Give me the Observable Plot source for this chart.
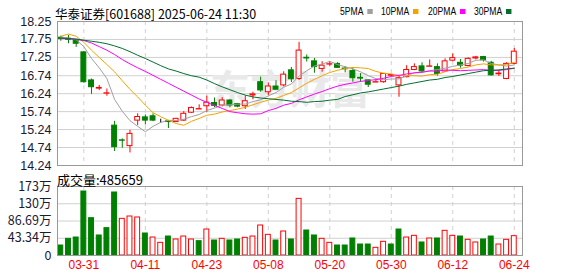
<!DOCTYPE html>
<html><head><meta charset="utf-8">
<script src="https://cdn.jsdelivr.net/npm/d3@7"></script>
<script src="https://cdn.jsdelivr.net/npm/@observablehq/plot@0.6"></script>
<style>
body{margin:0;background:#fff;}
#wrap{position:relative;width:578px;height:276px;overflow:hidden;background:#fff;}
.abs{position:absolute;white-space:nowrap;line-height:1;}
#title{left:55px;top:4px;font:12.5px "Noto Sans CJK SC",sans-serif;color:#000;}
#vlabel{left:57px;top:170px;font:13px "Noto Sans CJK SC",sans-serif;color:#000;}
.lg{position:absolute;top:5px;font:11px "Liberation Sans",sans-serif;color:#000;transform-origin:0 0;transform:scaleX(0.78);}
.lg span{display:inline-block;width:7px;height:5px;margin-left:5px;vertical-align:1px;}
</style></head><body>
<div id="wrap">
  <div id="vol" class="abs" style="left:0;top:170px"></div>
  <div id="main" class="abs" style="left:0;top:0"></div>
  <div id="title" class="abs">华泰证券[601688] 2025-06-24 11:30</div>
  <div id="legend"></div>
  <div id="vlabel" class="abs">成交量:485659</div>
</div>
<script>
// ---- data ----
const dates = ["03-26","03-27","03-28","03-31","04-01","04-02","04-03","04-07","04-08","04-09",
"04-10","04-11","04-14","04-15","04-16","04-17","04-18","04-21","04-22","04-23",
"04-24","04-25","04-28","04-29","04-30","05-06","05-07","05-08","05-09","05-12",
"05-13","05-14","05-15","05-16","05-19","05-20","05-21","05-22","05-23","05-26",
"05-27","05-28","05-29","05-30","06-03","06-04","06-05","06-06","06-09","06-10",
"06-11","06-12","06-13","06-16","06-17","06-18","06-19","06-20","06-23","06-24"];
const open = [17.80,17.77,17.74,17.39,16.61,16.38,16.24,15.35,14.94,14.78,
15.49,15.58,15.61,15.49,15.47,15.45,15.49,15.71,15.80,15.89,
15.98,15.91,16.05,15.95,15.89,16.19,16.56,16.28,16.44,16.47,
16.89,16.65,17.24,17.14,16.93,17.05,17.07,16.94,16.87,16.68,
16.61,16.55,16.56,16.74,16.47,16.70,16.90,17.00,16.99,16.98,
16.86,17.16,17.10,17.01,17.22,17.26,17.10,16.78,16.65,17.07];
const high = [17.84,17.86,17.75,17.41,16.65,16.47,16.37,15.47,14.98,15.22,
15.68,15.65,15.68,15.53,15.48,15.55,15.74,15.87,15.93,16.17,
16.12,16.13,16.07,15.97,16.18,16.28,16.70,16.54,16.60,16.85,
16.97,17.67,17.32,17.22,17.13,17.14,17.10,16.99,16.97,16.80,
16.62,16.63,16.80,16.78,16.75,17.02,17.07,17.10,17.18,17.07,
17.21,17.35,17.19,17.24,17.28,17.28,17.14,16.89,17.10,17.50];
const low = [17.70,17.63,17.53,16.53,16.22,16.33,16.17,14.63,14.72,14.59,
15.35,15.37,15.46,15.41,15.27,15.44,15.47,15.69,15.80,15.72,
15.85,15.87,15.85,15.85,15.80,16.07,16.28,16.19,16.35,16.43,
16.55,16.61,17.12,16.81,16.84,16.99,16.95,16.82,16.56,16.56,
16.41,16.55,16.53,16.71,16.14,16.68,16.88,16.83,16.99,16.73,
16.83,17.13,16.95,16.99,17.18,17.12,16.73,16.72,16.63,17.05];
const close = [17.76,17.74,17.63,16.56,16.42,16.40,16.25,14.75,14.93,15.12,
15.59,15.49,15.49,15.49,15.45,15.54,15.68,15.84,15.81,15.99,
15.90,16.05,15.91,15.88,16.03,16.22,16.33,16.44,16.35,16.77,
16.64,17.44,17.22,16.98,17.02,17.06,16.96,16.92,16.67,16.66,
16.49,16.56,16.79,16.76,16.67,16.90,16.98,16.86,17.00,16.79,
17.14,17.23,17.02,17.21,17.25,17.17,16.75,16.80,17.07,17.41];
const prevClose = 17.85;
const ma5 = [17.81,17.79,17.74,17.55,17.22,16.96,16.66,16.08,15.75,15.49,
15.33,15.18,15.33,15.44,15.50,15.49,15.53,15.60,15.66,15.77,
15.84,15.92,15.93,15.95,15.95,16.02,16.07,16.18,16.27,16.42,
16.51,16.73,16.88,17.01,17.06,17.14,17.05,16.99,16.93,16.85,
16.74,16.66,16.63,16.65,16.65,16.74,16.82,16.83,16.88,16.91,
16.95,17.00,17.04,17.08,17.17,17.18,17.08,17.04,17.01,17.04];
const ma10 = [17.84,17.90,17.84,17.67,17.45,17.25,17.05,16.85,16.60,16.36,
16.15,15.92,15.71,15.60,15.50,15.41,15.36,15.47,15.55,15.64,
15.67,15.73,15.77,15.81,15.86,15.93,16.00,16.06,16.11,16.19,
16.27,16.40,16.53,16.64,16.74,16.83,16.89,16.94,16.97,16.96,
16.94,16.86,16.81,16.79,16.75,16.74,16.74,16.73,16.77,16.78,
16.85,16.91,16.94,16.98,17.04,17.07,17.04,17.04,17.05,17.11];
const ma20 = [17.78,17.77,17.75,17.72,17.65,17.55,17.45,17.33,17.19,17.07,
16.96,16.86,16.75,16.64,16.53,16.42,16.31,16.20,16.09,16.00,
15.91,15.83,15.74,15.71,15.68,15.67,15.68,15.77,15.83,15.92,
15.97,16.07,16.15,16.23,16.30,16.38,16.45,16.50,16.54,16.58,
16.61,16.63,16.67,16.72,16.75,16.79,16.82,16.84,16.87,16.87,
16.90,16.89,16.88,16.89,16.90,16.91,16.89,16.89,16.91,16.95];
const ma30 = [17.79,17.78,17.76,17.73,17.70,17.67,17.63,17.57,17.50,17.41,
17.31,17.22,17.12,17.02,16.93,16.87,16.80,16.74,16.70,16.62,
16.52,16.43,16.35,16.27,16.20,16.15,16.12,16.10,16.08,16.06,
16.03,16.02,16.00,16.02,16.03,16.06,16.08,16.16,16.21,16.26,
16.29,16.33,16.37,16.41,16.45,16.50,16.54,16.58,16.62,16.64,
16.69,16.72,16.76,16.80,16.84,16.88,16.89,16.90,16.93,16.95];
// volume in 万
const volume = [25.1,41.9,45.2,160.8,93.8,50.3,68.7,158.3,92.1,98.0,
95.5,55.3,45.2,31.8,47.7,40.2,47.7,40.2,36.0,65.3,
37.7,41.9,37.7,40.2,44.4,47.7,75.4,51.9,37.7,60.3,
40.2,142.3,62.8,50.3,41.9,31.8,25.1,25.1,42.7,27.6,
27.6,19.3,34.4,27.6,65.3,45.2,49.4,32.7,42.7,42.7,
62.0,49.4,47.7,39.4,32.7,40.2,47.7,27.6,39.4,48.57];
const priceTicks = [18.25,17.75,17.25,16.74,16.24,15.74,15.24,14.74,14.24];
const priceLabels = ["18.25","17.75","17.25","16.74","16.24","15.74","15.24","14.74","14.24"];
const volTicks = [0,43.345,86.69,130.035,173.38];
const volLabels = ["0","43.34万","86.69万","130万","173万"];
const dateTicks = ["03-31","04-11","04-23","05-08","05-20","05-30","06-12","06-24"];
const maNames = ["5PMA","10PMA","20PMA","30PMA"];
const maColors = ["#a0a0a0","#f5a300","#ff00ff","#006f2e"];

// ---- build ----
const RED = "#ff0000", GREEN = "#008000";
const n = dates.length;
const idx = d3.range(n);
const candles = idx.map(i => ({i, o: open[i], h: high[i], l: low[i], c: close[i]}));
const cCol = d => d.c > d.o ? RED : d.c < d.o ? GREEN : "#000";
const vols = idx.map(i => ({i, v: volume[i], up: close[i] >= (i ? close[i-1] : prevClose)}));
const tickIdx = dateTicks.map(t => dates.indexOf(t));
const xDomain = [-0.43, n + 0.07];
const hw = 0.32;
const fontFam = "'Liberation Sans', Arial, sans-serif";
const grid = "#d0d0d0";
const mas = [ma5, ma10, ma20, ma30];

const main = Plot.plot({
  width: 578, height: 180,
  marginTop: 21, marginBottom: 15, marginLeft: 57, marginRight: 56,
  x: {domain: xDomain, axis: null},
  y: {domain: [14.24, 18.25], axis: null},
  style: {background: "transparent", fontFamily: fontFam, fontSize: "12.5px", color: "#1a1a33", overflow: "visible"},
  marks: [
    Plot.ruleY(priceTicks.slice(1, -1), {stroke: grid}),
    Plot.ruleX(tickIdx, {stroke: grid, strokeDasharray: "4,4"}),
    Plot.text(["东方财富"], {frameAnchor: "middle", fontSize: 40, fontWeight: "bold", fill: "#e9e9e9", fontFamily: "Noto Sans CJK SC", dy: -2}),
    Plot.ruleX(candles, {x: "i", y1: "l", y2: "h", stroke: cCol}),
    Plot.rect(candles, {x1: d => d.i - hw, x2: d => d.i + hw, y1: "o", y2: "c", fill: d => d.c > d.o ? "#fff" : cCol(d), stroke: cCol}),
    ...mas.map((m, k) => Plot.line(idx, {x: i => i, y: i => m[i], stroke: maColors[k], strokeWidth: 1})),
    Plot.frame({stroke: "#999"}),
    Plot.axisY(priceTicks, {label: null, tickSize: 0, tickPadding: 6, tickFormat: d => priceLabels[priceTicks.indexOf(d)], fill: "#1a1a33"})
  ]
});
document.getElementById("main").append(main);

const vol = Plot.plot({
  width: 578, height: 106,
  marginTop: 16, marginBottom: 21, marginLeft: 57, marginRight: 56,
  x: {domain: xDomain, axis: null},
  y: {domain: [0, 173.38], axis: null},
  style: {background: "transparent", fontFamily: fontFam, fontSize: "12.5px", color: "#1a1a33"},
  marks: [
    Plot.ruleY(volTicks.slice(1, -1), {stroke: grid}),
    Plot.ruleX(tickIdx, {stroke: grid, strokeDasharray: "4,4"}),
    Plot.rect(vols, {x1: d => d.i - hw, x2: d => d.i + hw, y1: 0, y2: "v", fill: d => d.up ? "#fff" : GREEN, stroke: d => d.up ? RED : GREEN}),
    Plot.frame({stroke: "#999"}),
    Plot.axisY(volTicks, {label: null, tickSize: 0, tickPadding: 6, tickFormat: d => volLabels[volTicks.indexOf(d)], fill: "#1a1a33", fontFamily: "'Noto Sans CJK SC', sans-serif"}),
    Plot.axisX(tickIdx, {label: null, tickSize: 0, tickPadding: 5, tickFormat: i => dates[i], fill: RED, fontSize: 12})
  ]
});
document.getElementById("vol").append(vol);

// legend
const lgX = [340, 381, 428, 474];
const lg = document.getElementById("legend");
maNames.forEach((nm, k) => {
  const d = document.createElement("div");
  d.className = "lg";
  d.style.left = lgX[k] + "px";
  d.innerHTML = nm + `<span style="background:${maColors[k]}"></span>`;
  lg.append(d);
});
</script>
</body></html>
